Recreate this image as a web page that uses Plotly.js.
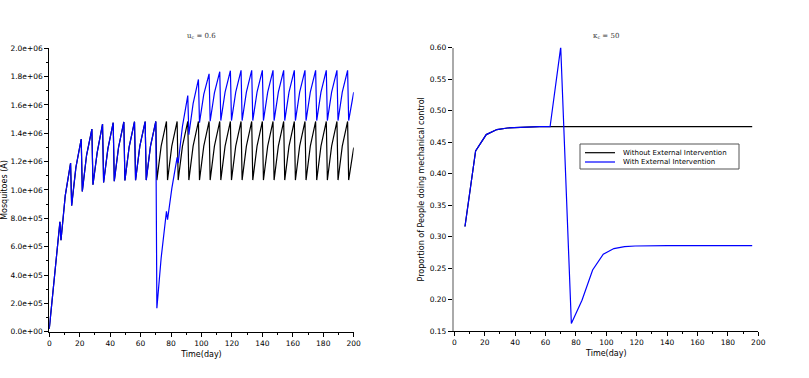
<!DOCTYPE html>
<html>
<head>
<meta charset="utf-8">
<script src="https://cdn.plot.ly/plotly-3.0.1.min.js"></script>
<style>html,body{margin:0;padding:0;background:#fff;}#chart{width:809px;height:378px;}</style>
</head>
<body>
<div id="chart"></div>
<script>
// ---- Left panel: mosquitoes (A) over time ----
var days = [0, 3.5, 7,
  7.7, 10.5, 14, 14.7, 17.5, 21, 21.7, 24.5, 28, 28.7, 31.5, 35, 35.7, 38.5, 42,
  42.7, 45.5, 49, 49.7, 52.5, 56, 56.7, 59.5, 63, 63.7, 66.5, 70, 70.7, 73.5, 77,
  77.7, 80.5, 84, 84.7, 87.5, 91, 91.7, 94.5, 98, 98.7, 101.5, 105, 105.7, 108.5, 112,
  112.7, 115.5, 119, 119.7, 122.5, 126, 126.7, 129.5, 133, 133.7, 136.5, 140,
  140.7, 143.5, 147, 147.7, 150.5, 154, 154.7, 157.5, 161, 161.7, 164.5, 168,
  168.7, 171.5, 175, 175.7, 178.5, 182, 182.7, 185.5, 189, 189.7, 192.5, 196,
  196.7, 200];

var mosqWithout = [2.0e4, 3.9e5, 7.75e5,
  6.45e5, 9.6e5, 1.19e6, 8.9e5, 1.16e6, 1.36e6, 9.9e5, 1.245e6, 1.43e6,
  1.037e6, 1.265e6, 1.465e6, 1.053e6, 1.29e6, 1.475e6, 1.062e6, 1.30e6, 1.48e6,
  1.067e6, 1.305e6, 1.482e6, 1.069e6, 1.31e6, 1.483e6, 1.07e6, 1.31e6, 1.484e6,
  1.07e6, 1.31e6, 1.484e6, 1.07e6, 1.31e6, 1.484e6, 1.07e6, 1.31e6, 1.484e6,
  1.07e6, 1.31e6, 1.484e6, 1.07e6, 1.31e6, 1.484e6, 1.07e6, 1.31e6, 1.484e6,
  1.07e6, 1.31e6, 1.484e6, 1.07e6, 1.31e6, 1.484e6, 1.07e6, 1.31e6, 1.484e6,
  1.07e6, 1.31e6, 1.484e6, 1.07e6, 1.31e6, 1.484e6, 1.07e6, 1.31e6, 1.484e6,
  1.07e6, 1.31e6, 1.484e6, 1.07e6, 1.31e6, 1.484e6, 1.07e6, 1.31e6, 1.484e6,
  1.07e6, 1.31e6, 1.484e6, 1.07e6, 1.31e6, 1.484e6, 1.07e6, 1.31e6, 1.484e6,
  1.07e6, 1.30e6];

var mosqWith = [2.0e4, 3.9e5, 7.75e5,
  6.45e5, 9.6e5, 1.19e6, 8.9e5, 1.16e6, 1.36e6, 9.9e5, 1.245e6, 1.43e6,
  1.037e6, 1.265e6, 1.465e6, 1.053e6, 1.29e6, 1.475e6, 1.062e6, 1.30e6, 1.48e6,
  1.067e6, 1.305e6, 1.482e6, 1.069e6, 1.31e6, 1.483e6, 1.07e6, 1.31e6, 1.484e6,
  1.65e5, 5.2e5, 8.5e5, 7.9e5, 1.01e6, 1.23e6, 1.19e6, 1.45e6, 1.666e6,
  1.39e6, 1.61e6, 1.78e6, 1.475e6, 1.675e6, 1.82e6, 1.485e6, 1.685e6, 1.835e6,
  1.49e6, 1.69e6, 1.842e6, 1.49e6, 1.69e6, 1.845e6, 1.49e6, 1.69e6, 1.845e6,
  1.49e6, 1.69e6, 1.845e6, 1.49e6, 1.69e6, 1.845e6, 1.49e6, 1.69e6, 1.845e6,
  1.49e6, 1.69e6, 1.845e6, 1.49e6, 1.69e6, 1.845e6, 1.49e6, 1.69e6, 1.845e6,
  1.49e6, 1.69e6, 1.845e6, 1.49e6, 1.69e6, 1.845e6, 1.49e6, 1.69e6, 1.845e6,
  1.49e6, 1.69e6];

var mosqTickVals = [0, 2e5, 4e5, 6e5, 8e5, 1e6, 1.2e6, 1.4e6, 1.6e6, 1.8e6, 2e6];
var mosqTickText = ["0.0e+00", "2.0e+05", "4.0e+05", "6.0e+05", "8.0e+05", "1.0e+06",
  "1.2e+06", "1.4e+06", "1.6e+06", "1.8e+06", "2.0e+06"];

// ---- Right panel: proportion doing mechanical control ----
var weeks = [7, 14, 21, 28, 35, 42, 49, 56, 63, 70, 77, 84, 91, 98, 105, 112, 119, 126,
  133, 140, 147, 154, 161, 168, 175, 182, 189, 196];
var propWithout = [0.316, 0.436, 0.462, 0.470, 0.4725, 0.4735, 0.474, 0.4745, 0.4745, 0.4745,
  0.4745, 0.4745, 0.4745, 0.4745, 0.4745, 0.4745, 0.4745, 0.4745, 0.4745, 0.4745,
  0.4745, 0.4745, 0.4745, 0.4745, 0.4745, 0.4745, 0.4745, 0.4745];
var propWith = [0.316, 0.436, 0.462, 0.470, 0.4725, 0.4735, 0.474, 0.4745, 0.4745, 0.601,
  0.162, 0.199, 0.247, 0.272, 0.281, 0.284, 0.285, 0.2855, 0.2855, 0.2855,
  0.2855, 0.2855, 0.2855, 0.2855, 0.2855, 0.2855, 0.2855, 0.2855];

var seriesNames = ["Without External Intervention", "With External Intervention"];
var seriesColors = ["#000000", "#0000ff"];

var W = 809, H = 378;
function px(x) { return x / W; }
function py(y) { return 1 - y / H; }

var tickFont = {family: "DejaVu Sans", size: 7.5, color: "#000"};
var titleFont = {family: "DejaVu Sans", size: 8, color: "#000"};

var traces = [
  {x: days, y: mosqWithout, xaxis: "x", yaxis: "y", mode: "lines",
   line: {color: seriesColors[0], width: 1.2}, showlegend: false, name: seriesNames[0]},
  {x: days, y: mosqWith, xaxis: "x", yaxis: "y", mode: "lines",
   line: {color: seriesColors[1], width: 1.2}, showlegend: false, name: seriesNames[1]},
  {x: weeks, y: propWithout, xaxis: "x2", yaxis: "y2", mode: "lines",
   line: {color: seriesColors[0], width: 1.2}, showlegend: false, name: seriesNames[0]},
  {x: weeks, y: propWith, xaxis: "x2", yaxis: "y2", mode: "lines",
   line: {color: seriesColors[1], width: 1.2}, showlegend: false, name: seriesNames[1]}
];

function xAxis(domain, anchor) {
  return {
    domain: domain, anchor: anchor, range: [0, 200], dtick: 20, tick0: 0,
    showgrid: false, zeroline: false, showline: true, linecolor: "#000", linewidth: 1,
    ticks: "outside", ticklen: 4, tickwidth: 1, tickcolor: "#000",
    minor: {tickmode: "linear", tick0: 0, dtick: 10, ticks: "outside", ticklen: 2, tickcolor: "#000", showgrid: false},
    tickfont: tickFont,
    title: {text: "Time(day)", font: titleFont, standoff: 4}
  };
}

// custom compact legend (box + line swatches + labels)
var legendShapes = [
  {type: "rect", xref: "paper", yref: "paper", x0: px(580), x1: px(739), y0: py(144), y1: py(169),
   line: {color: "#555", width: 1}, fillcolor: "#fff", layer: "above"},
  {type: "line", xref: "paper", yref: "paper", x0: px(585), x1: px(615), y0: py(152.7), y1: py(152.7),
   line: {color: seriesColors[0], width: 1.2}, layer: "above"},
  {type: "line", xref: "paper", yref: "paper", x0: px(585), x1: px(615), y0: py(162), y1: py(162),
   line: {color: seriesColors[1], width: 1.2}, layer: "above"}
];
var legendLabels = [
  {text: seriesNames[0], xref: "paper", yref: "paper", x: px(621), y: py(152.7),
   xanchor: "left", yanchor: "middle", showarrow: false,
   font: {family: "DejaVu Sans", size: 7, color: "#000"}},
  {text: seriesNames[1], xref: "paper", yref: "paper", x: px(621), y: py(162),
   xanchor: "left", yanchor: "middle", showarrow: false,
   font: {family: "DejaVu Sans", size: 7, color: "#000"}}
];

var layout = {
  width: W, height: H,
  margin: {l: 0, r: 0, t: 0, b: 0},
  paper_bgcolor: "#fff", plot_bgcolor: "#fff",
  showlegend: false,
  xaxis: xAxis([0.0609, 0.4372], "y"),
  yaxis: {
    domain: [0.1225, 0.8722], anchor: "x", range: [0, 2e6],
    tickmode: "array", tickvals: mosqTickVals, ticktext: mosqTickText,
    showgrid: false, zeroline: false, showline: true, linecolor: "#000", linewidth: 1,
    ticks: "outside", ticklen: 4, tickwidth: 1, tickcolor: "#000",
    minor: {tickmode: "linear", tick0: 0, dtick: 1e5, ticks: "outside", ticklen: 2, tickcolor: "#000", showgrid: false},
    tickfont: tickFont,
    title: {text: "Mosquitoes (A)", font: titleFont, standoff: 4}
  },
  xaxis2: xAxis([0.5616, 0.9373], "y2"),
  yaxis2: {
    domain: [0.1243, 0.8738], anchor: "x2", range: [0.15, 0.60],
    dtick: 0.05, tick0: 0.15, tickformat: ".2f",
    showgrid: false, zeroline: false, showline: true, linecolor: "#aaaaaa", linewidth: 2.5,
    ticks: "outside", ticklen: 4, tickwidth: 1, tickcolor: "#000",
    tickfont: tickFont,
    title: {text: "Proportion of People doing mechanical control", font: titleFont, standoff: 4}
  },
  shapes: legendShapes,
  annotations: [
    {text: "u<sub>c</sub> = 0.6", xref: "paper", yref: "paper", x: 0.249, y: py(36),
     xanchor: "center", yanchor: "middle", showarrow: false,
     font: {family: "DejaVu Serif", size: 7, color: "#333"}},
    {text: "κ<sub>c</sub> = 50", xref: "paper", yref: "paper", x: 0.7495, y: py(36),
     xanchor: "center", yanchor: "middle", showarrow: false,
     font: {family: "DejaVu Serif", size: 7, color: "#333"}}
  ].concat(legendLabels)
};

Plotly.newPlot("chart", traces, layout, {staticPlot: true, displayModeBar: false});
</script>
</body>
</html>
